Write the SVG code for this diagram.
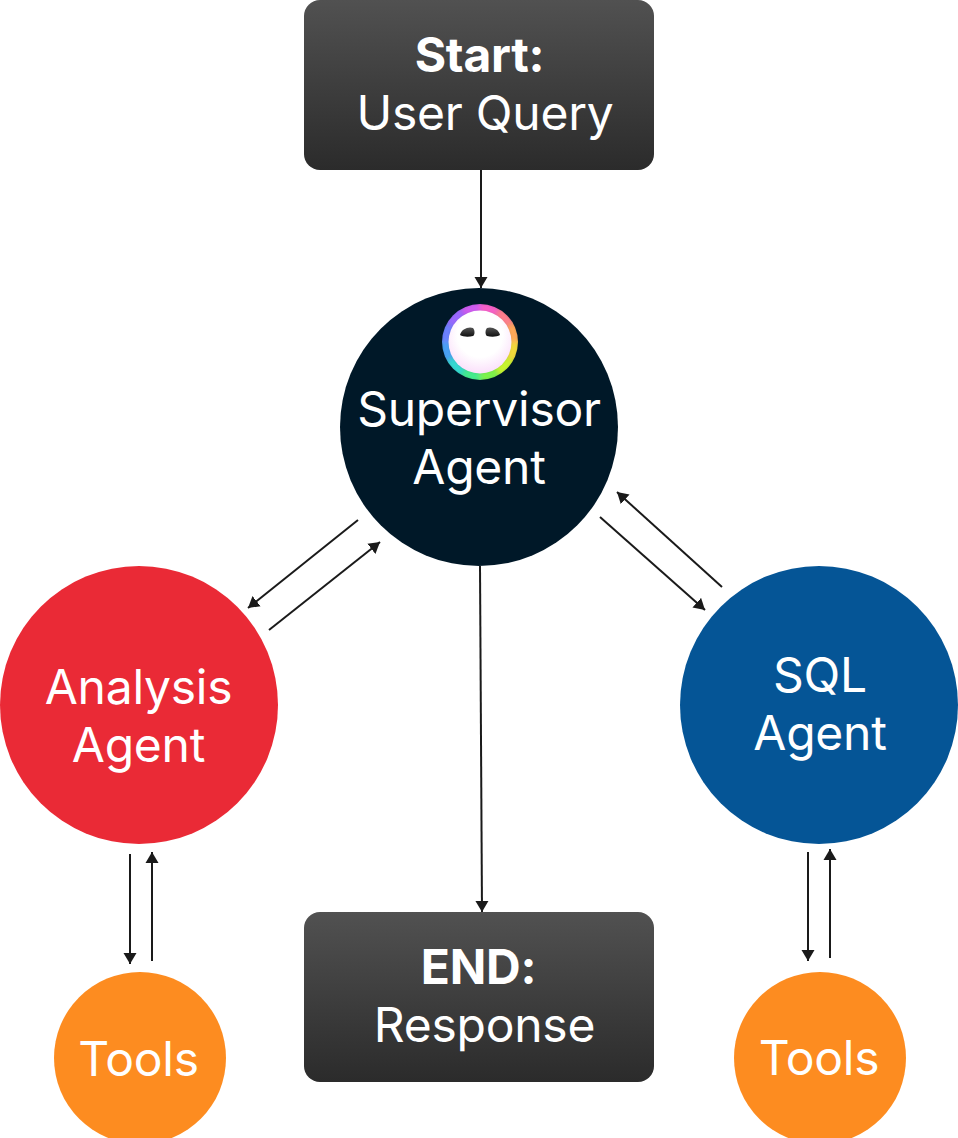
<svg xmlns="http://www.w3.org/2000/svg" width="958" height="1138" viewBox="0 0 958 1138">
<style>
.t{font-family:Inter,"Noto Sans","Liberation Sans",sans-serif;font-size:48px;font-weight:400;letter-spacing:-.25px;fill:#fff;text-anchor:middle}
.t.b{font-weight:700}
.c line{stroke:#1a1a1a;stroke-width:2;marker-end:url(#a)}
.ring path{fill:none;stroke-width:14}
</style>
<defs>
<marker id="a" markerUnits="userSpaceOnUse" markerWidth="13" markerHeight="14" refX="11" refY="7" orient="auto"><path d="M0 .5L11 7L0 13.500Z" fill="#1a1a1a"/></marker>
<linearGradient id="g" x1="0" y1="0" x2="0" y2="1"><stop offset="0" stop-color="#515151"/><stop offset="1" stop-color="#2b2b2b"/></linearGradient>
<radialGradient id="f" cx=".5" cy=".38" r=".6"><stop offset="0" stop-color="#fff"/><stop offset=".6" stop-color="#fff"/><stop offset="1" stop-color="#fbe2fb"/></radialGradient>
<linearGradient id="e" x1="0" y1="0" x2="0" y2="1"><stop offset="0" stop-color="#555"/><stop offset="1" stop-color="#111"/></linearGradient>
<clipPath id="lc"><circle cx="480" cy="342" r="38"/></clipPath>
<filter id="bl" x="-20%" y="-20%" width="140%" height="140%"><feGaussianBlur stdDeviation="2.500"/></filter>
</defs>
<g id="connectors" class="c">
<line x1="481" y1="170" x2="481" y2="288"/>
<line x1="480" y1="566" x2="482" y2="912"/>
<line x1="358" y1="520" x2="248" y2="608"/>
<line x1="269" y1="630" x2="380" y2="542"/>
<line x1="722" y1="587" x2="617" y2="492"/>
<line x1="600" y1="517" x2="705" y2="610"/>
<line x1="130" y1="854" x2="130" y2="964"/>
<line x1="152" y1="961" x2="152" y2="852"/>
<line x1="808" y1="852" x2="808" y2="961"/>
<line x1="830" y1="958" x2="830" y2="849"/>
</g>
<g id="start">
<rect x="304" y="0" width="350" height="170" rx="16" fill="url(#g)"/>
<text class="t b" x="479.5" y="72">Start:</text>
<text class="t" x="485" y="130">User Query</text>
</g>
<g id="supervisor">
<circle cx="479" cy="427" r="139" fill="#001828"/>
<g id="logo" clip-path="url(#lc)"><g class="ring" filter="url(#bl)">
<path d="M480 307.500A34.500 34.500 0 0 1 497.250 312.120" stroke="#f860c8"/>
<path d="M497.250 312.120A34.500 34.500 0 0 1 509.880 324.750" stroke="#ff7e8c"/>
<path d="M509.880 324.750A34.500 34.500 0 0 1 514.500 342" stroke="#ffa858"/>
<path d="M514.500 342A34.500 34.500 0 0 1 509.880 359.250" stroke="#f2d83a"/>
<path d="M509.880 359.250A34.500 34.500 0 0 1 497.250 371.880" stroke="#c8f52e"/>
<path d="M497.250 371.880A34.500 34.500 0 0 1 480 376.500" stroke="#7cf24c"/>
<path d="M480 376.500A34.500 34.500 0 0 1 462.750 371.880" stroke="#44eb8c"/>
<path d="M462.750 371.880A34.500 34.500 0 0 1 450.120 359.250" stroke="#36d8d0"/>
<path d="M450.120 359.250A34.500 34.500 0 0 1 445.500 342" stroke="#4aa0f4"/>
<path d="M445.500 342A34.500 34.500 0 0 1 450.120 324.750" stroke="#6c80ff"/>
<path d="M450.120 324.750A34.500 34.500 0 0 1 462.750 312.120" stroke="#9a68ff"/>
<path d="M462.750 312.120A34.500 34.500 0 0 1 480 307.500" stroke="#cf5cf0"/>
</g></g>
<circle cx="480" cy="342" r="31.500" fill="url(#f)"/>
<path d="M460 335C461 329 469 326 473 328C475 330 475 335 473 336C469 337 463 337 460 335Z" fill="url(#e)"/>
<path d="M500 335C499 329 491 326 487 328C485 330 485 335 487 336C491 337 497 337 500 335Z" fill="url(#e)"/>
<text class="t" x="479" y="426">Supervisor</text>
<text class="t" x="479" y="484">Agent</text>
</g>
<g id="analysis">
<circle cx="139" cy="705" r="139" fill="#ea2a36"/>
<text class="t" x="138.500" y="704">Analysis</text>
<text class="t" x="138.500" y="762">Agent</text>
</g>
<g id="sql">
<circle cx="819" cy="705" r="139" fill="#055596"/>
<text class="t" x="820" y="692">SQL</text>
<text class="t" x="820" y="750">Agent</text>
</g>
<g id="end">
<rect x="304" y="912" width="350" height="170" rx="16" fill="url(#g)"/>
<text class="t b" x="478.500" y="984">END:</text>
<text class="t" x="484.500" y="1042">Response</text>
</g>
<g id="tools-left">
<circle cx="140" cy="1058" r="86" fill="#fd8c20"/>
<text class="t" x="138.500" y="1076">Tools</text>
</g>
<g id="tools-right">
<circle cx="820" cy="1058" r="86" fill="#fd8c20"/>
<text class="t" x="819" y="1075">Tools</text>
</g>
</svg>
